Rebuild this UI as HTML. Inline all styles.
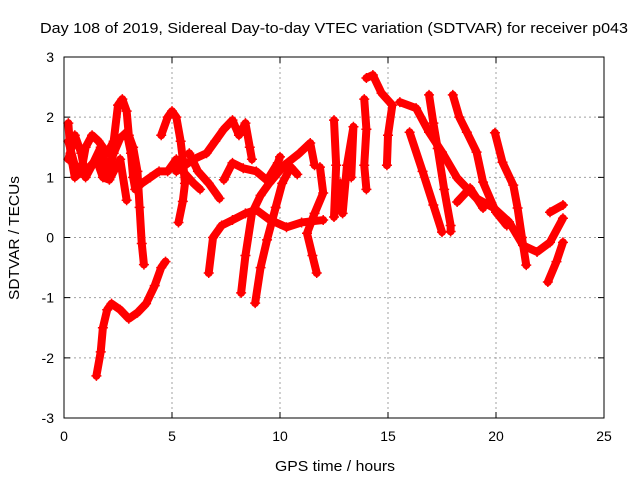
<!DOCTYPE html>
<html><head><meta charset="utf-8"><style>
body{margin:0;background:#fff;}
svg{display:block;font-family:"Liberation Sans",sans-serif;}
</style></head><body>
<svg id="chart" width="640" height="480" xmlns="http://www.w3.org/2000/svg">
<rect width="640" height="480" fill="#fff"/>
<text x="334" y="33" font-size="15" text-anchor="middle" textLength="588" lengthAdjust="spacingAndGlyphs" fill="#000">Day 108 of 2019, Sidereal Day-to-day VTEC variation (SDTVAR) for receiver p043</text>
<g id="grid"></g>
<g id="series"></g>
<rect x="64" y="57" width="540" height="361" fill="none" stroke="#000" stroke-width="1"/>
<g id="ticks"></g>
<text x="335" y="471" font-size="15" text-anchor="middle" textLength="120" lengthAdjust="spacingAndGlyphs">GPS time / hours</text>
<text x="19" y="238" font-size="15" text-anchor="middle" textLength="124" lengthAdjust="spacingAndGlyphs" transform="rotate(-90 19 238)">SDTVAR / TECUs</text>
</svg>
<script>
const xTicks=[0,5,10,15,20,25];
const yTicks=[-3,-2,-1,0,1,2,3];
const trackA=[[1.5,-2.3],[1.7,-1.9],[1.8,-1.5],[2.0,-1.2],[2.2,-1.1],[2.6,-1.2],[3.0,-1.35],[3.4,-1.25],[3.8,-1.1],[4.2,-0.8],[4.5,-0.5],[4.7,-0.4]];
const trackB=[[0.2,1.9],[0.3,1.4],[0.5,1.0],[0.8,1.1],[1.0,1.5],[1.3,1.7],[1.6,1.6],[2.0,1.4],[2.3,1.6],[2.5,2.2],[2.7,2.3],[2.9,2.1],[3.0,1.7],[3.2,1.5],[3.4,1.1],[3.5,0.5],[3.6,-0.1],[3.7,-0.45]];
const trackC=[[0.2,1.3],[0.5,1.7],[0.8,1.4],[1.0,1.0],[1.3,1.2],[1.7,1.5],[2.0,1.1],[2.3,1.4],[2.6,1.65],[2.9,1.75],[3.1,1.4],[3.2,1.0],[3.3,0.8],[3.6,0.9],[4.0,1.0],[4.4,1.1],[4.8,1.1],[5.2,1.3],[5.5,1.1],[6.0,0.9],[6.3,0.8]];
const trackT=[[0.2,1.6],[0.5,1.2],[1.0,1.1],[1.5,1.3],[1.8,1.0],[2.1,0.96],[2.6,1.3],[2.9,0.62]];
const trackD=[[4.5,1.7],[4.8,2.0],[5.0,2.1],[5.2,2.0],[5.4,1.6],[5.5,1.3],[5.6,0.9],[5.5,0.6],[5.3,0.25]];
const trackE=[[5.2,1.1],[5.6,1.2],[6.0,1.3],[6.6,1.4],[7.0,1.6],[7.4,1.8],[7.8,1.95],[8.1,1.7],[8.4,1.9],[8.6,1.5],[8.7,1.3]];
const trackF=[[5.8,1.4],[6.2,1.1],[6.7,0.9],[7.2,0.65]];
const trackF2=[[7.4,0.96],[7.8,1.24],[8.3,1.15],[8.9,1.1],[9.4,0.95],[9.9,1.24],[10.0,1.34]];
const trackG=[[6.7,-0.59],[6.9,0.0],[7.3,0.2],[7.8,0.29],[8.4,0.4],[8.9,0.46],[9.5,0.3],[10.3,0.17],[11.0,0.25],[12.0,0.29]];
const trackH=[[8.2,-0.92],[8.4,-0.3],[8.7,0.4],[9.1,0.7],[9.5,0.9],[10.2,1.2],[10.9,1.4],[11.4,1.57],[11.6,1.2]];
const trackI=[[8.85,-1.09],[9.1,-0.5],[9.4,-0.04],[9.8,0.5],[10.1,0.9],[10.5,1.17],[10.8,1.05]];
const trackJ=[[11.7,-0.59],[11.5,-0.3],[11.25,0.07],[11.6,0.4],[12.0,0.74],[11.85,1.17]];
const trackK=[[12.5,1.95],[12.6,1.2],[12.5,0.34],[12.8,0.9],[12.9,0.4],[13.1,1.2],[13.4,1.84],[13.3,1.0]];
const trackL=[[13.9,2.3],[14.0,1.8],[13.9,1.2],[14.0,0.8]];
const trackM=[[14.0,2.65],[14.3,2.7],[14.7,2.4],[15.2,2.2],[15.0,1.7],[14.95,1.2]];
const trackN=[[15.55,2.25],[16.3,2.15],[16.9,1.75],[17.5,1.42],[18.2,0.99],[19.1,0.65],[19.9,0.49],[20.6,0.26],[21.25,-0.13],[21.9,-0.24],[22.5,-0.08],[23.1,0.32]];
const trackO=[[16.9,2.37],[17.1,1.9],[17.3,1.48],[17.6,0.8],[17.9,0.2],[17.9,0.1]];
const trackP=[[18.0,2.37],[18.3,2.0],[18.65,1.75],[19.1,1.42],[19.4,0.92],[20.0,0.42],[20.5,0.2]];
const trackQ=[[19.95,1.74],[20.3,1.25],[20.8,0.87],[21.0,0.49],[21.2,0.0],[21.4,-0.46]];
const trackR=[[16.0,1.75],[16.6,1.1],[17.1,0.54],[17.5,0.09]];
const trackR2=[[18.2,0.59],[18.8,0.82],[19.4,0.49]];
const trackS=[[22.4,-0.74],[22.8,-0.4],[23.1,-0.08]];
const trackS2=[[22.5,0.42],[23.1,0.54]];
const tracks=[trackA,trackB,trackC,trackT,trackD,trackE,trackF,trackF2,trackG,trackH,trackI,trackJ,trackK,trackL,trackM,trackN,trackO,trackP,trackQ,trackR,trackR2,trackS,trackS2];

const NS="http://www.w3.org/2000/svg";
const X0=64,X1=604,Y0=418,Y1=57;
function xs(h){return X0+(h-0)/(25-0)*(X1-X0);}
function ys(v){return Y0-(v+3)/6*(Y0-Y1);}
const grid=document.getElementById('grid'),ticks=document.getElementById('ticks'),series=document.getElementById('series');
function mk(tag,at,parent){const e=document.createElementNS(NS,tag);for(const k in at)e.setAttribute(k,at[k]);parent.appendChild(e);return e;}
xTicks.forEach(t=>{
  const x=xs(t);
  if(t>0&&t<25){const g=mk('line',{x1:x,x2:x,y1:Y1,y2:Y0,stroke:'#a0a0a0','stroke-dasharray':'2,3'},grid);
  
  }
  const tk=mk('path',{d:`M${x},${Y0}v-6M${x},${Y1}v6`,stroke:'#000'},ticks);
  
  
  const l=mk('text',{x:x,y:Y0+23,'font-size':14,'text-anchor':'middle'},ticks);l.textContent=t;
  
  
});
yTicks.forEach(t=>{
  const y=ys(t);
  if(t>-3&&t<3){const g=mk('line',{x1:X0,x2:X1,y1:y,y2:y,stroke:'#a0a0a0','stroke-dasharray':'2,3'},grid);
  
  }
  const tk=mk('path',{d:`M${X0},${y}h6M${X1},${y}h-6`,stroke:'#000'},ticks);
  
  
  const l=mk('text',{x:X0-10,y:y+5,'font-size':14,'text-anchor':'end'},ticks);l.textContent=t;
  
  
});
tracks.forEach((tr,i)=>{
  const pts=tr.map(p=>xs(p[0])+','+ys(p[1])).join(' ');
  const pl=mk('polyline',{points:pts,fill:'none',stroke:'#ff0000','stroke-width':8,'stroke-linejoin':'round','stroke-linecap':'round'},series);
  
  
  tr.forEach(p=>{
    const x=xs(p[0]),y=ys(p[1]);
    const m=mk('path',{d:`M${x-5},${y}h10M${x},${y-5}v10`,stroke:'#ff0000','stroke-width':1.5},series);
    
    
  });
});
</script>
</body></html>
